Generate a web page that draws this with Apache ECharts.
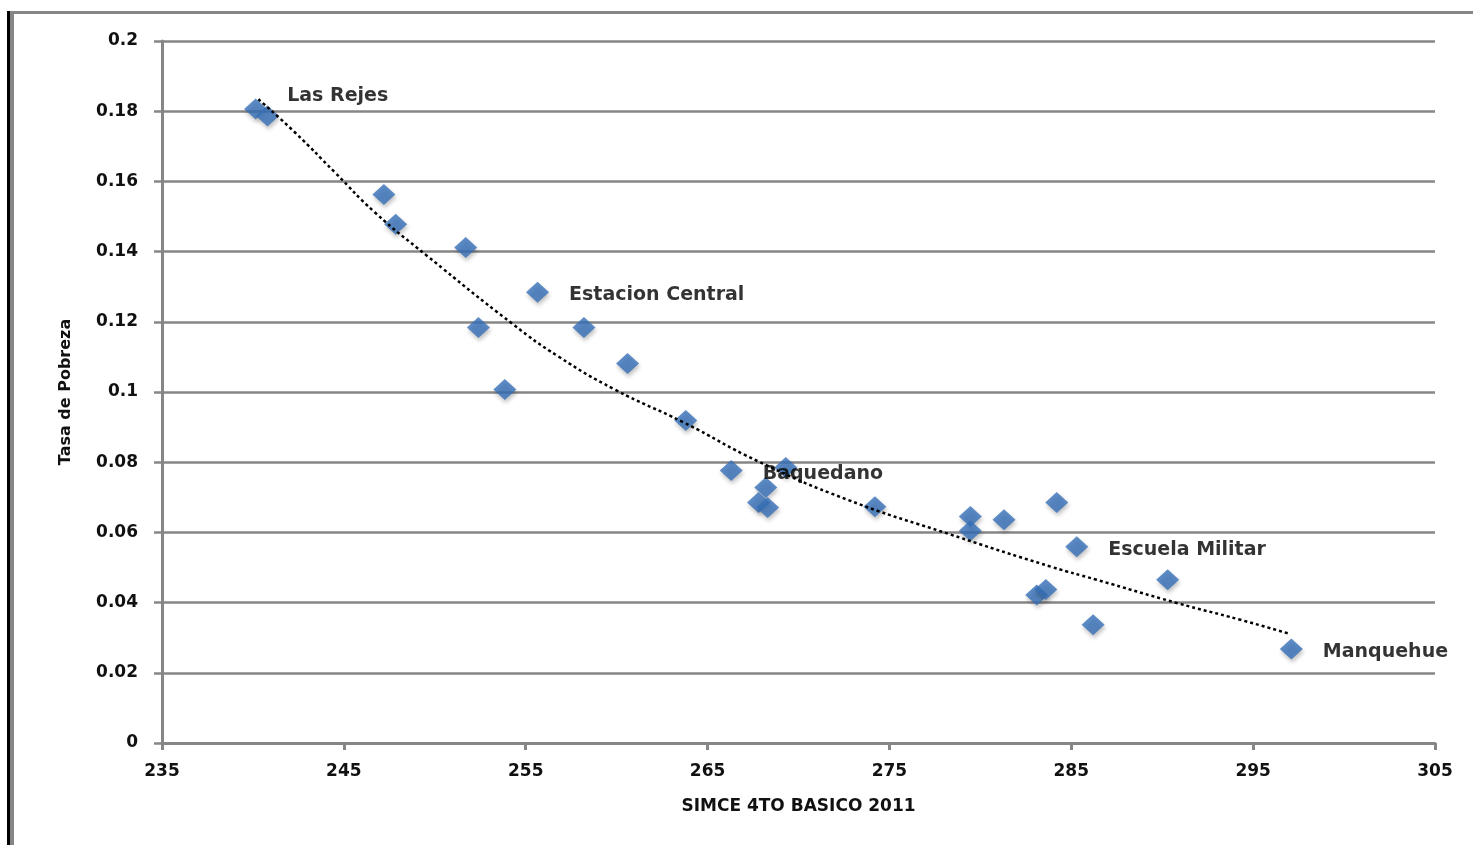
<!DOCTYPE html>
<html>
<head>
<meta charset="utf-8">
<script src="https://cdn.jsdelivr.net/npm/echarts@6/dist/echarts.min.js"></script>
<style>
html,body{margin:0;padding:0;background:#fff;}
#c{width:1473px;height:845px;}
</style>
</head>
<body>
<div id="c"></div>
<script>
// SIMCE 4to Basico 2011 (x) vs Tasa de Pobreza (y)
var simce = [240.15, 240.8, 247.2, 247.85, 251.7, 255.65, 252.4, 258.2, 253.85, 260.6, 263.8, 266.3, 269.3, 268.2, 267.8, 268.3, 274.2, 279.45, 279.45, 281.3, 284.2, 285.3, 283.1, 283.6, 286.2, 290.3, 297.1];
var pobreza = [0.1806, 0.1786, 0.1563, 0.1478, 0.1412, 0.1284, 0.1184, 0.1184, 0.1007, 0.1081, 0.0919, 0.0776, 0.0785, 0.0728, 0.0685, 0.0671, 0.0673, 0.0645, 0.0605, 0.0636, 0.0685, 0.0559, 0.0422, 0.0437, 0.0337, 0.0465, 0.0268];
var comunas = ['Las Rejes', '', '', '', '', 'Estacion Central', '', '', '', '', '', 'Baquedano', '', '', '', '', '', '', '', '', '', 'Escuela Militar', '', '', '', '', 'Manquehue'];
// trend line
var trendX = [240.3, 242.3, 244.5, 246.7, 249.6, 254.3, 256.8, 259.9, 263.7, 267.8, 272.7, 278.3, 283.9, 286.4, 290.8, 294.3, 297.0];
var trendY = [0.1834, 0.1740, 0.1626, 0.1512, 0.1387, 0.1193, 0.1101, 0.1007, 0.0913, 0.0802, 0.0693, 0.0595, 0.0502, 0.0465, 0.0399, 0.0351, 0.0311];

var FONT = 'DejaVu Sans';
var TXT = '#111111';
var GRAY = '#868686';

var pts = simce.map(function (x, i) {
  var item = { value: [x, pobreza[i]] };
  if (comunas[i]) {
    item.name = comunas[i];
    item.label = {
      show: true,
      position: 'right',
      distance: 20,
      offset: comunas[i] === 'Las Rejes' ? [0, -13] : [0, 3],
      formatter: comunas[i],
      fontFamily: FONT,
      fontWeight: 'bold',
      fontSize: 19,
      color: '#000'
    };
  }
  return item;
});
var trend = trendX.map(function (x, i) { return [x, trendY[i]]; });

var chart = echarts.init(document.getElementById('c'));
chart.setOption({
  animation: false,
  backgroundColor: '#fff',
  grid: { left: 162, right: 38, top: 41, bottom: 102 },
  xAxis: {
    type: 'value', min: 235, max: 305, interval: 10,
    name: 'SIMCE 4TO BASICO 2011', nameLocation: 'middle', nameGap: 55,
    nameTextStyle: { fontFamily: FONT, fontWeight: 'bold', fontSize: 17, color: TXT },
    axisLine: { show: true, lineStyle: { color: GRAY, width: 3 } },
    axisTick: { show: true, length: 7, lineStyle: { color: GRAY, width: 3 } },
    axisLabel: { margin: 20, fontFamily: FONT, fontWeight: 'bold', fontSize: 17, color: TXT },
    splitLine: { show: false }
  },
  yAxis: {
    type: 'value', min: 0, max: 0.2, interval: 0.02,
    name: 'Tasa de Pobreza', nameLocation: 'middle', nameGap: 88, nameRotate: 90,
    nameTextStyle: { fontFamily: FONT, fontWeight: 'bold', fontSize: 16, color: TXT },
    axisLine: { show: true, lineStyle: { color: GRAY, width: 3 } },
    axisTick: { show: true, length: 8, lineStyle: { color: GRAY, width: 2.5 } },
    axisLabel: { margin: 24, fontFamily: FONT, fontWeight: 'bold', fontSize: 17, color: TXT,
      formatter: function (v) { return String(Math.round(v * 100) / 100); } },
    splitLine: { show: true, lineStyle: { color: GRAY, width: 2.5 } }
  },
  graphic: [
    { type: 'line', z: 100, shape: { x1: 8.5, y1: 11, x2: 8.5, y2: 845 }, style: { stroke: '#000', lineWidth: 3 } },
    { type: 'line', z: 100, shape: { x1: 12, y1: 11, x2: 12, y2: 845 }, style: { stroke: GRAY, lineWidth: 4 } },
    { type: 'line', z: 100, shape: { x1: 10, y1: 12.5, x2: 1473, y2: 12.5 }, style: { stroke: GRAY, lineWidth: 3 } }
  ],
  series: [
    {
      type: 'scatter',
      data: pts,
      symbol: 'diamond',
      symbolSize: [23, 21],
      itemStyle: {
        color: '#366fb8',
        shadowColor: 'rgba(0,0,0,0.3)',
        shadowBlur: 4,
        shadowOffsetX: 1,
        shadowOffsetY: 3
      },
      emphasis: { disabled: true },
      z: 2
    },
    {
      type: 'line',
      data: trend,
      smooth: true,
      showSymbol: false,
      symbol: 'none',
      lineStyle: { color: '#000', width: 2.5, type: [3, 3] },
      emphasis: { disabled: true },
      z: 3
    }
  ]
});
</script>
</body>
</html>
